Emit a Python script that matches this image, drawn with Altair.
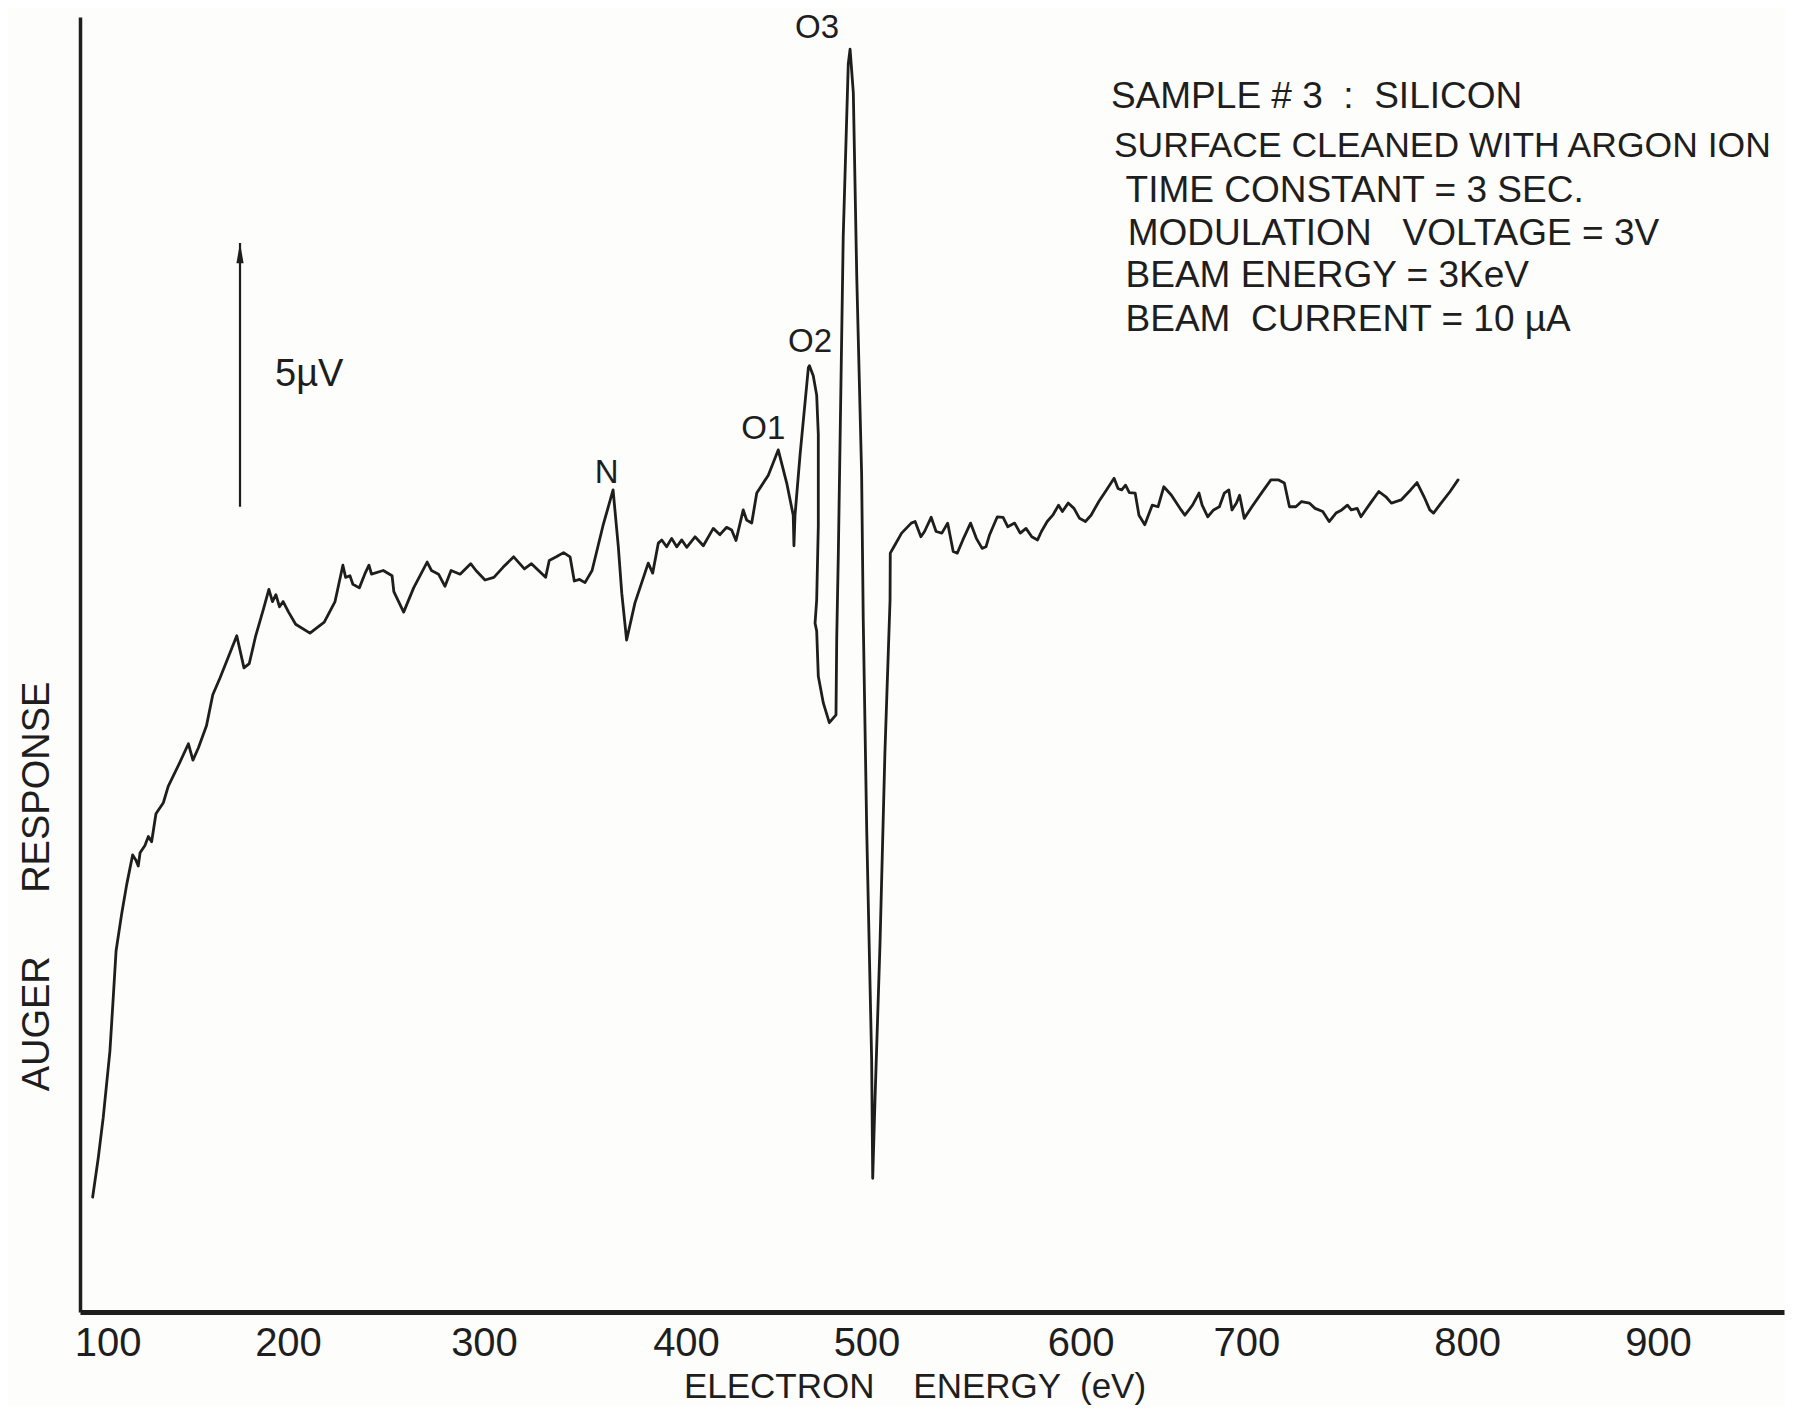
import altair as alt
import pandas as pd

# ---------------- data ----------------
# electron energy (eV) and Auger response (microvolt, arbitrary zero at the x axis)
energy = [
    91.7, 94.8, 97.6, 101.3, 103.2, 104.7, 107.8, 110.6, 113.9, 115.7,
    117.0, 118.0, 120.7, 122.6, 124.4, 126.8, 130.9, 133.6, 140.1, 144.8,
    147.3, 150.3, 154.8, 158.3, 162.3, 171.6, 175.6, 178.5, 182.1, 186.5,
    189.4, 191.4, 193.3, 195.3, 197.3, 200.3, 203.9, 211.2, 218.5, 224.0,
    228.0, 229.4, 231.6, 233.1, 236.4, 239.5, 241.3, 242.6, 248.6, 253.1,
    254.0, 259.0, 264.1, 271.0, 273.2, 276.8, 280.1, 283.2, 287.8, 293.2,
    295.9, 300.5, 304.9, 309.4, 314.7, 320.0, 323.5, 327.0, 330.5, 332.3,
    335.8, 339.4, 342.6, 344.7, 347.3, 350.0, 353.5, 358.9, 363.9, 366.5,
    368.2, 370.6, 374.7, 381.3, 383.5, 386.3, 388.0, 390.4, 392.9, 395.4,
    397.9, 400.4, 405.0, 409.6, 415.1, 418.8, 422.5, 425.3, 427.7, 431.7,
    433.6, 436.4, 439.2, 445.6, 451.1, 455.8, 459.4, 459.8, 460.4, 463.2,
    467.8, 468.4, 470.5, 472.4, 473.3, 473.3, 472.4, 471.5, 472.4, 473.3,
    476.1, 479.4, 483.1, 483.5, 484.4, 487.1, 489.9, 490.9, 492.7, 494.6,
    497.3, 498.2, 500.1, 502.4, 502.9, 504.0, 506.3, 508.6, 511.0, 511.1,
    512.8, 516.4, 520.9, 522.7, 525.4, 527.1, 530.2, 532.5, 535.2, 537.9,
    540.5, 542.4, 545.0, 548.6, 551.3, 554.0, 555.8, 557.5, 561.1, 563.8,
    566.0, 569.2, 571.8, 574.5, 577.2, 579.9, 581.7, 584.4, 587.0, 589.7,
    591.5, 594.2, 596.9, 599.5, 602.9, 606.3, 611.0, 615.6, 620.2, 622.5,
    624.8, 627.1, 629.4, 632.9, 635.2, 638.7, 643.2, 646.7, 650.2, 654.8,
    660.6, 662.9, 667.5, 671.4, 673.3, 676.7, 680.2, 683.7, 686.7, 689.4,
    691.3, 694.0, 695.9, 698.7, 702.5, 706.8, 711.1, 714.6, 717.2, 719.5,
    722.4, 725.0, 728.5, 731.1, 734.6, 737.5, 740.6, 743.2, 745.8, 747.5,
    750.2, 751.9, 756.2, 760.0, 763.2, 765.7, 770.1, 774.4, 777.3, 780.5,
    783.1, 784.8, 787.5, 792.3, 795.9,
]
response = [
    2.18, 2.92, 3.70, 4.96, 6.01, 6.86, 7.56, 8.12, 8.68, 8.58,
    8.47, 8.72, 8.86, 9.03, 8.93, 9.46, 9.67, 9.98, 10.44, 10.79,
    10.48, 10.71, 11.13, 11.72, 12.04, 12.84, 12.23, 12.31, 12.84, 13.36,
    13.72, 13.49, 13.62, 13.39, 13.49, 13.29, 13.06, 12.89, 13.10, 13.49,
    14.18, 13.95, 13.98, 13.82, 13.75, 14.04, 14.18, 14.01, 14.08, 13.98,
    13.68, 13.29, 13.75, 14.24, 14.08, 14.01, 13.78, 14.08, 14.01, 14.21,
    14.08, 13.90, 13.95, 14.14, 14.34, 14.11, 14.21, 14.08, 13.95, 14.27,
    14.34, 14.42, 14.34, 13.88, 13.91, 13.85, 14.08, 14.93, 15.61, 14.53,
    13.65, 12.76, 13.46, 14.22, 14.03, 14.60, 14.66, 14.53, 14.69, 14.53,
    14.66, 14.52, 14.72, 14.55, 14.88, 14.76, 14.90, 14.85, 14.65, 15.23,
    15.04, 14.98, 15.55, 15.89, 16.37, 15.74, 15.13, 14.55, 15.13, 16.28,
    17.93, 17.97, 17.78, 17.41, 16.66, 14.93, 13.52, 13.08, 12.93, 12.07,
    11.56, 11.19, 11.34, 12.79, 14.41, 20.41, 23.70, 23.98, 23.15, 19.66,
    15.91, 13.14, 9.15, 4.80, 2.54, 4.07, 6.98, 10.62, 13.52, 14.41,
    14.53, 14.79, 14.98, 15.01, 14.72, 14.82, 15.09, 14.82, 14.79, 14.98,
    14.44, 14.41, 14.66, 14.98, 14.69, 14.50, 14.53, 14.76, 15.10, 15.09,
    14.91, 14.98, 14.79, 14.88, 14.72, 14.66, 14.82, 15.01, 15.13, 15.32,
    15.20, 15.36, 15.26, 15.07, 15.01, 15.13, 15.39, 15.61, 15.83, 15.64,
    15.61, 15.70, 15.56, 15.55, 15.13, 14.95, 15.32, 15.29, 15.67, 15.51,
    15.23, 15.13, 15.32, 15.55, 15.32, 15.10, 15.23, 15.29, 15.55, 15.61,
    15.23, 15.36, 15.51, 15.07, 15.29, 15.55, 15.80, 15.80, 15.74, 15.29,
    15.29, 15.39, 15.36, 15.26, 15.20, 15.01, 15.17, 15.23, 15.32, 15.23,
    15.26, 15.10, 15.36, 15.58, 15.48, 15.36, 15.42, 15.61, 15.75, 15.48,
    15.23, 15.17, 15.32, 15.58, 15.80,
]

tick_values = [100, 200, 300, 400, 500, 600, 700, 800, 900]

# peak labels
peak_labels = ["N", "O1", "O2", "O3"]
peak_energy = [360.7, 442.8, 468.7, 472.6]
peak_level = [15.74, 16.58, 18.23, 24.19]

# 5 microvolt scale bar
bar_energy = [173.4]
bar_low = [15.29]
bar_high = [20.30]
bar_label = ["5µV"]
bar_label_energy = [192.8]
bar_label_level = [17.58]

# experiment notes
NB = "\u00a0"
note_lines = [
    "SAMPLE # 3 " + NB + ":" + NB + " SILICON",
    "SURFACE CLEANED WITH ARGON ION",
    "TIME CONSTANT = 3 SEC.",
    "MODULATION" + NB * 3 + "VOLTAGE = 3V",
    "BEAM ENERGY = 3KeV",
    "BEAM" + NB + " CURRENT = 10 µA",
]
note_energy = [618.3, 620.1, 627.1, 628.4, 627.1, 627.1]
note_level = [22.86, 21.94, 21.08, 20.26, 19.47, 18.62]

# ---------------- chart ----------------
FONT = "Liberation Sans"
INK = "#1e1e1e"

curve = pd.DataFrame({"energy": energy, "response": response,
                      "idx": list(range(len(energy)))})
peaks = pd.DataFrame({"label": peak_labels, "energy": peak_energy, "response": peak_level})
bar = pd.DataFrame({"energy": bar_energy, "response": bar_low, "top": bar_high})
bar_tip = pd.DataFrame({"energy": bar_energy, "response": [b - 0.19 for b in bar_high]})
bar_txt = pd.DataFrame({"label": bar_label, "energy": bar_label_energy, "response": bar_label_level})
notes = pd.DataFrame({"label": note_lines, "energy": note_energy, "response": note_level,
                      "size": [37, 35.5, 37, 37, 37, 37]})

x_scale = alt.Scale(
    domain=[84.7, 100, 200, 300, 400, 500, 600, 700, 800, 900, 966.0],
    range=[0, 27.6, 208, 404, 606, 786.5, 1000.6, 1166.4, 1387.1, 1578, 1704],
)
y_scale = alt.Scale(domain=[0, 24.59], nice=False, zero=False)

x_axis = alt.Axis(
    values=tick_values, format="d", ticks=False, tickSize=0, grid=False,
    labelFont=FONT, labelFontSize=40, labelColor=INK, labelPadding=11,
    labelBaseline="top", labelFlush=False, labelOverlap=False,
    domainColor=INK, domainWidth=5,
    title="ELECTRON" + NB * 4 + "ENERGY " + NB + "(eV)", titleFont=FONT,
    titleFontSize=35, titleFontWeight="normal", titleColor=INK,
    titleX=834.5, titleY=85, titleAlign="center", titleBaseline="alphabetic",
)
y_axis = alt.Axis(
    labels=False, ticks=False, tickSize=0, grid=False,
    domainColor=INK, domainWidth=3.5,
    title="AUGER" + NB * 6 + "RESPONSE", titleFont=FONT, titleFontSize=38,
    titleFontWeight="normal", titleColor=INK, titleAngle=270,
    titleX=-32, titleY=869, titleAlign="center", titleBaseline="alphabetic",
)

line = alt.Chart(curve).mark_line(
    color=INK, strokeWidth=2.8, strokeJoin="round", strokeCap="round"
).encode(order="idx:Q")

rule = alt.Chart(bar).mark_rule(color=INK, strokeWidth=2.2).encode(y2="top:Q")

tip = alt.Chart(bar_tip).mark_point(
    shape="M0,-1L0.35,1L-0.35,1Z", size=420, filled=True, color=INK,
    opacity=1, strokeWidth=0,
)
bar_text = alt.Chart(bar_txt).mark_text(
    font=FONT, fontSize=38, color=INK, align="left", baseline="alphabetic"
).encode(text="label:N")

peak_text = alt.Chart(peaks).mark_text(
    font=FONT, fontSize=33, color=INK, align="center", baseline="alphabetic"
).encode(text="label:N")

note_text = alt.Chart(notes).mark_text(
    font=FONT, color=INK, align="left", baseline="alphabetic"
).encode(text="label:N", size=alt.Size("size:Q", scale=None, legend=None))

chart = alt.layer(line, rule, tip, bar_text, peak_text, note_text).encode(
    x=alt.X("energy:Q", scale=x_scale, axis=x_axis),
    y=alt.Y("response:Q", scale=y_scale, axis=y_axis),
).properties(
    width=1704,
    height=1295,
    autosize=alt.AutoSizeParams(type="none"),
    padding={"left": 72, "top": 9, "right": 1, "bottom": 93},
    background="#fdfdfb",
).configure_view(stroke=None)

chart.save("out.html", embed_options={"renderer": "svg", "actions": False})
